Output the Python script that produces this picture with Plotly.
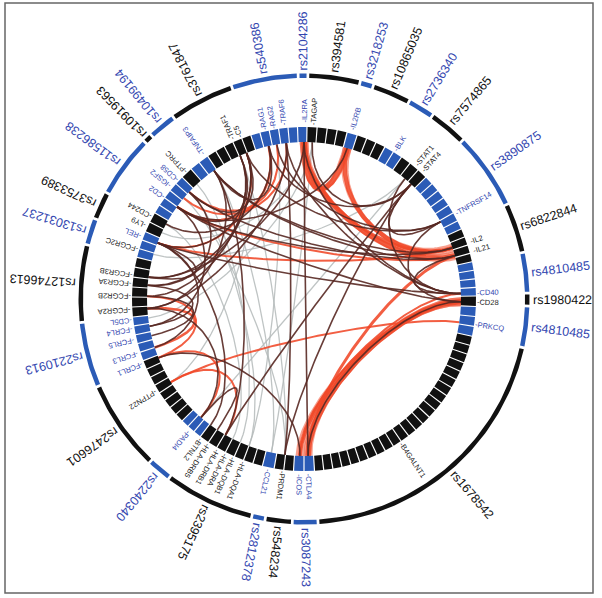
import numpy as np
import plotly.graph_objects as go

BLUE = "#2b5bb6"
BLACK = "#111111"
TXT_BLUE = "#3447b0"
RED = "rgba(240,72,40,0.88)"
BROWN = "rgba(88,40,34,0.9)"
GREY = "rgba(180,186,186,0.85)"

# ---------------- data ----------------
gene_names = ["TRAF1", "C5", "RAG1", "RAG2", "TRAF6", "IL2RA", "TAGAP", "IL2RB", "BLK",
              "STAT1", "STAT4", "TNFRSF14", "IL2", "IL21", "CD40", "CD28", "PRKCQ",
              "B4GALNT1", "CTLA4", "ICOS", "PRDM1", "CCL21", "HLA-DQA1", "HLA-DQB1",
              "HLA-DRA", "HLA-DRB1", "HLA-DRB5", "BTNL2", "PADI4", "PTPN22", "FCRL1",
              "FCRL3", "FCRL5", "FCRL4", "CD5L", "FCGR2A", "FCGR2B", "FCGR3A", "FCGR3B",
              "FCGR2C", "REL", "LY9", "CD244", "CD2", "IGSF2", "CD58", "PTPRC", "TNFAIP3"]
gene_angle = [336, 338.5, 347, 350, 353.5, 0, 3, 16, 31.5,
              40, 43, 60.5, 71, 74, 88, 91, 98.5,
              146, 178.5, 181.5, 187, 192, 200.5, 204,
              207, 210, 213.5, 216.5, 221, 238, 248,
              252, 256.5, 260, 263, 266.5, 271, 275, 278,
              286.5, 291, 295, 298.5, 306, 310, 313, 317, 325]
gene_blue = [0, 0, 1, 1, 1, 1, 0, 1, 1,
             0, 0, 1, 0, 0, 1, 0, 1,
             0, 1, 1, 0, 1, 0, 0,
             0, 0, 0, 0, 1, 0, 1,
             1, 1, 1, 1, 0, 0, 0, 0,
             0, 1, 0, 0, 1, 1, 1, 0, 1]

ring_start = [-18, 1, 14.5, 18, 28, 34.5, 45, 66, 77.5, 89, 92.5, 102.5, 176.5,
              183.5, 190, 194, 217, 225, 249, 264, 284, 293, 300, 315, 319, 326]
ring_blue = [1, 0, 1, 0, 1, 0, 1, 0, 1, 0, 1, 0, 1, 0, 1, 0, 1, 0, 1, 0, 1, 0, 1, 0, 1, 0]
ring_last_end = 342

snp_names = ["rs2104286", "rs394581", "rs3218253", "rs10865035", "rs2736340", "rs7574865",
             "rs3890875", "rs6822844", "rs4810485", "rs1980422", "rs4810485", "rs1678542",
             "rs3087243", "rs548234", "rs2812378", "rs2395175", "rs2240340", "rs2476601",
             "rs2210913", "rs12746613", "rs13031237", "rs3753389", "rs11586238",
             "rs10919563", "rs10499194", "rs3761847", "rs540386"]
snp_start = [-1.5, 1, 14.5, 18, 28, 35, 45, 65, 78, 88.5, 91.8, 102.5, 176.4, 183, 190,
             193.5, 217, 223.4, 247, 264, 284, 291, 298.3, 314.6, 317, 324.3, 341.2]
snp_last_end = 358.5
snp_blue = [1, 0, 1, 0, 1, 0, 1, 0, 1, 0, 1, 0, 1, 0, 1, 0, 1, 0, 1, 0, 1, 0, 1, 0, 1, 0, 1]

# links between genes
red_a = ["IL2RA", "IL2RA", "IL2RB", "IL2RA", "CTLA4", "ICOS", "CTLA4", "ICOS", "PRKCQ",
         "RAG1", "RAG2", "TRAF6", "FCGR2A", "FCGR2B", "PTPN22", "PADI4", "IL21", "IL2", "C5"]
red_b = ["IL2RB", "IL21", "IL2", "IL2", "CD28", "CD28", "IL21", "CD40", "PTPN22",
         "CD2", "CD58", "IGSF2", "FCRL3", "FCRL1", "HLA-DRB1", "FCRL1", "CD2", "REL", "REL"]
red_w = [8, 7, 6, 3, 8, 6, 3, 2, 2, 2.5, 2, 2, 2.5, 2, 2, 2, 2, 2, 1.8]

brown_a = ["TRAF1", "TRAF1", "TRAF1", "C5", "C5", "C5", "RAG1", "RAG1", "RAG2", "TRAF6",
           "TRAF6", "IL2RA", "IL2RA", "IL2RA", "TAGAP", "IL2RB", "STAT4", "STAT4", "STAT4",
           "STAT1", "IL2", "IL21", "CD40", "CD28", "FCGR3B", "IL21", "IL2", "REL", "CD58",
           "CD2", "REL", "FCGR2B", "FCGR3A", "FCRL1", "PRDM1", "HLA-DRB1", "BTNL2",
           "TNFAIP3", "TNFAIP3", "CD28", "IL21", "PADI4", "FCGR2A", "TNFRSF14"]
brown_b = ["CD2", "REL", "FCGR2B", "CD58", "TNFRSF14", "FCGR3A", "CD244", "STAT4",
           "TNFRSF14", "CD40", "FCGR2A", "CTLA4", "CD40", "FCGR3B", "STAT4", "CD2",
           "TNFRSF14", "PRDM1", "HLA-DRB1", "CD40", "CD2", "CD58", "REL", "CD2",
           "C5", "TNFAIP3", "TNFAIP3", "FCGR3B", "FCGR3A", "FCRL4", "FCRL3", "FCRL5",
           "FCRL4", "ICOS", "TRAF6", "TNFAIP3", "REL", "FCGR2A", "RAG1", "CTLA4", "CD40",
           "HLA-DRB5", "PADI4", "CD28"]
brown_w = [1.6] * len(brown_a)

grey_a = ["TNFAIP3", "IGSF2", "TAGAP", "RAG2", "FCGR2C", "CD5L", "C5", "PTPRC", "CD244",
          "LY9", "TRAF1", "STAT1", "CD58"]
grey_b = ["CCL21", "PRDM1", "CCL21", "HLA-DQA1", "STAT1", "TAGAP", "PTPN22", "HLA-DQB1",
          "HLA-DRA", "IL2RA", "PRDM1", "PADI4", "HLA-DQA1"]
grey_w = [1.3] * len(grey_a)

# ---------------- geometry helpers ----------------
R_LINK = 157
R_IN, R_OUT = 157, 172
R_SNP0, R_SNP1 = 221, 225.5

ang = dict(zip(gene_names, gene_angle))


def pt(r, th):
    t = np.radians(th)
    return r * np.sin(t), r * np.cos(t)


def sector(r0, r1, a0, a1, n=10):
    th = np.radians(np.linspace(a0, a1, n))
    xs = list(r1 * np.sin(th)) + list(r0 * np.sin(th[::-1]))
    ys = list(r1 * np.cos(th)) + list(r0 * np.cos(th[::-1]))
    xs.append(xs[0]); ys.append(ys[0])
    return xs, ys


def bezier(a, b, k=0.62, n=90):
    p0 = np.array(pt(R_LINK, a)); p3 = np.array(pt(R_LINK, b))
    c1 = np.array(pt(R_LINK * k, a)); c2 = np.array(pt(R_LINK * k, b))
    t = np.linspace(0, 1, n)[:, None]
    B = (1 - t) ** 3 * p0 + 3 * (1 - t) ** 2 * t * c1 + 3 * (1 - t) * t ** 2 * c2 + t ** 3 * p3
    return B[:, 0], B[:, 1]


def text_w(s, size):
    w = 0
    for ch in s:
        if ch.isdigit():
            w += 0.556
        elif ch in "rfijlt":
            w += 0.30
        elif ch.islower():
            w += 0.5
        elif ch == "-":
            w += 0.333
        elif ch.isupper():
            w += 0.68
        else:
            w += 0.5
    return w * size


def norm_angle(a):
    while a > 180:
        a -= 360
    while a <= -180:
        a += 360
    return a


fig = go.Figure()

# ---------------- links ----------------
for A, B, W in zip(grey_a, grey_b, grey_w):
    x, y = bezier(ang[A], ang[B])
    fig.add_trace(go.Scatter(x=x, y=y, mode="lines", line=dict(color=GREY, width=W),
                             hoverinfo="skip", showlegend=False))
for A, B, W in zip(red_a, red_b, red_w):
    a0, b0 = ang[A], ang[B]
    if W >= 5:
        for d, ww, col in [(-1.2, 2.2, "rgba(240,80,50,0.55)"), (1.2, 2.2, "rgba(240,80,50,0.55)"),
                           (0, W * 0.7, RED)]:
            x, y = bezier(a0 + d, b0 - d)
            fig.add_trace(go.Scatter(x=x, y=y, mode="lines", line=dict(color=col, width=ww),
                                     hoverinfo="skip", showlegend=False))
    else:
        x, y = bezier(a0, b0)
        fig.add_trace(go.Scatter(x=x, y=y, mode="lines", line=dict(color=RED, width=W),
                                 hoverinfo="skip", showlegend=False))
for A, B, W in zip(brown_a, brown_b, brown_w):
    x, y = bezier(ang[A], ang[B])
    fig.add_trace(go.Scatter(x=x, y=y, mode="lines", line=dict(color=BROWN, width=W),
                             hoverinfo="skip", showlegend=False))

# ---------------- inner cell ring ----------------
ring_end = ring_start[1:] + [ring_last_end]
cells = {1: ([], []), 0: ([], [])}
for s, e, b in zip(ring_start, ring_end, ring_blue):
    n = max(1, int(round((e - s) / 3.1)))
    w = (e - s) / n
    for i in range(n):
        xs, ys = sector(R_IN, R_OUT, s + i * w + 0.2, s + (i + 1) * w - 0.2, 5)
        cells[b][0].extend(xs + [None]); cells[b][1].extend(ys + [None])
for b, col in [(1, BLUE), (0, BLACK)]:
    fig.add_trace(go.Scatter(x=cells[b][0], y=cells[b][1], mode="lines", fill="toself",
                             fillcolor=col, line=dict(width=0, color=col),
                             hoverinfo="skip", showlegend=False))

# ---------------- outer SNP ring ----------------
snp_end = snp_start[1:] + [snp_last_end]
arcs = {1: ([], []), 0: ([], [])}
for s, e, b in zip(snp_start, snp_end, snp_blue):
    xs, ys = sector(R_SNP0, R_SNP1, s + 0.35, e - 0.35, max(4, int(e - s) + 2))
    arcs[b][0].extend(xs + [None]); arcs[b][1].extend(ys + [None])
for b, col in [(1, BLUE), (0, BLACK)]:
    fig.add_trace(go.Scatter(x=arcs[b][0], y=arcs[b][1], mode="lines", fill="toself",
                             fillcolor=col, line=dict(width=0, color=col),
                             hoverinfo="skip", showlegend=False))

# ---------------- labels ----------------
annotations = []
GFS = 7.5
for name, a, b in zip(gene_names, gene_angle, gene_blue):
    s = "-" + name
    r = 174 + text_w(s, GFS) / 2
    x, y = pt(r, a)
    annotations.append(dict(x=x, y=y, xref="x", yref="y", text=s, showarrow=False,
                            textangle=norm_angle(a - 90), xanchor="center", yanchor="middle",
                            font=dict(family="Liberation Sans, Arial", size=GFS,
                                      color=TXT_BLUE if b else "#222222")))
SFS = 12.5
for name, s0, e0, b in zip(snp_names, snp_start, snp_end, snp_blue):
    a = (s0 + e0) / 2
    r = 229 + text_w(name, SFS) / 2
    x, y = pt(r, a)
    annotations.append(dict(x=x, y=y, xref="x", yref="y", text=name, showarrow=False,
                            textangle=norm_angle(a - 90), xanchor="center", yanchor="middle",
                            font=dict(family="Liberation Sans, Arial", size=SFS,
                                      color=TXT_BLUE if b else "#111111")))

fig.update_layout(
    width=602, height=598,
    margin=dict(l=0, r=0, t=0, b=0),
    xaxis=dict(range=[-304, 298], visible=False, fixedrange=True),
    yaxis=dict(range=[-299, 299], visible=False, fixedrange=True),
    plot_bgcolor="white", paper_bgcolor="white",
    showlegend=False,
    annotations=annotations,
    shapes=[dict(type="rect", xref="x", yref="y", x0=-299, x1=289, y0=296, y1=-294,
                 line=dict(color="#666666", width=1.5), fillcolor="rgba(0,0,0,0)")],
)

fig.write_html("out.html", config={"displayModeBar": False},
               post_script="document.body.style.margin='0px';document.body.style.padding='0px';")
